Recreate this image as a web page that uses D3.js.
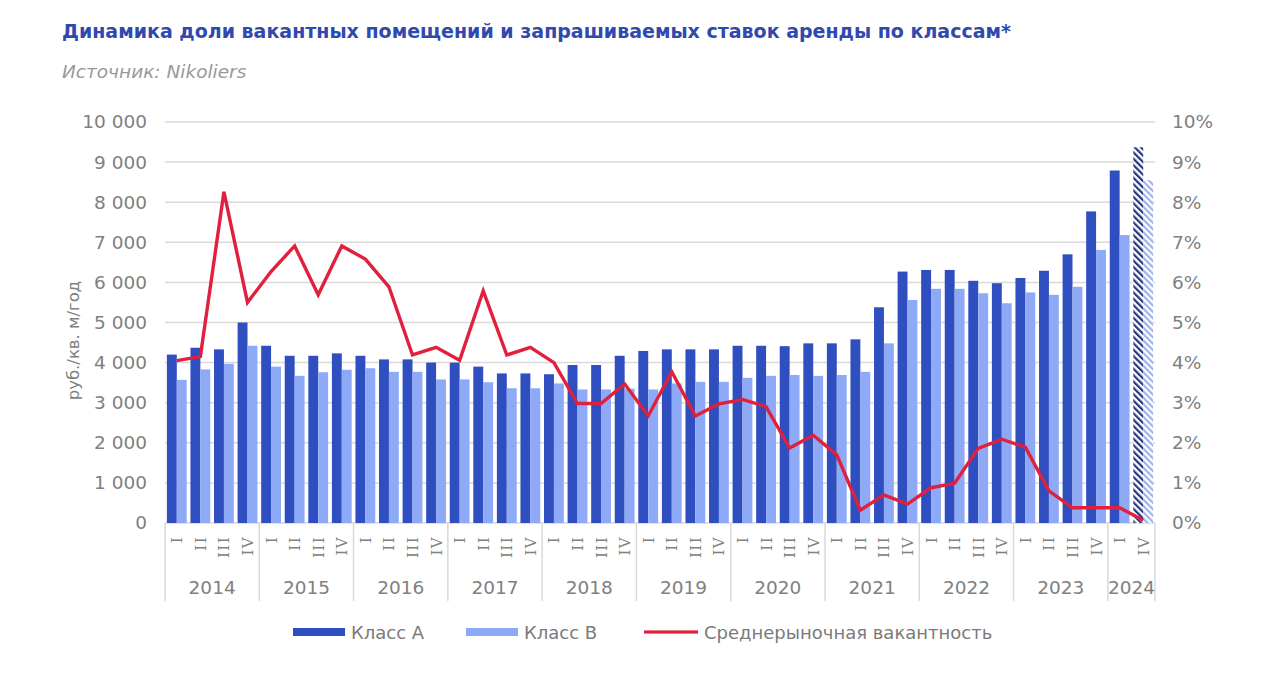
<!DOCTYPE html>
<html>
<head>
<meta charset="utf-8">
<script src="https://cdn.jsdelivr.net/npm/d3@7"></script>
<style>
  body { margin: 0; background: #fff; }
  svg text { font-family: "DejaVu Sans", Verdana, sans-serif; }
</style>
</head>
<body>
<div id="chart"></div>
<script>
// data
var years = ["2014", "2015", "2016", "2017", "2018", "2019", "2020", "2021", "2022", "2023", "2024"];
var yearQuarters = [
  ["I", "II", "III", "IV"], ["I", "II", "III", "IV"], ["I", "II", "III", "IV"],
  ["I", "II", "III", "IV"], ["I", "II", "III", "IV"], ["I", "II", "III", "IV"],
  ["I", "II", "III", "IV"], ["I", "II", "III", "IV"], ["I", "II", "III", "IV"],
  ["I", "II", "III", "IV"], ["I", "IV"]
];
var classA = [4200, 4370, 4330, 5000, 4420, 4170, 4170, 4230, 4170, 4080, 4080, 4000,
  4000, 3900, 3730, 3730, 3710, 3940, 3940, 4170, 4290, 4330, 4330, 4330,
  4420, 4420, 4410, 4480, 4480, 4580, 5380, 6270, 6310, 6310, 6040, 5980,
  6110, 6290, 6700, 7770, 8790, 9370];
var classB = [3570, 3830, 3970, 4420, 3900, 3670, 3760, 3820, 3860, 3770, 3770, 3580,
  3580, 3510, 3360, 3360, 3480, 3330, 3330, 3350, 3330, 3480, 3520, 3520,
  3620, 3670, 3690, 3670, 3690, 3770, 4480, 5560, 5840, 5840, 5730, 5480,
  5750, 5690, 5890, 6810, 7180, 8550];
var vacancy = [4.05, 4.15, 8.26, 5.50, 6.27, 6.91, 5.69, 6.91, 6.58, 5.89, 4.19, 4.38,
  4.06, 5.79, 4.19, 4.38, 4.00, 2.98, 2.98, 3.47, 2.67, 3.77, 2.67, 2.97,
  3.08, 2.90, 1.87, 2.19, 1.70, 0.32, 0.70, 0.47, 0.88, 0.99, 1.86, 2.09,
  1.89, 0.80, 0.38, 0.38, 0.38, 0.07];
var forecastPeriods = ["2024 IV"];
var rentTicks = [0, 1000, 2000, 3000, 4000, 5000, 6000, 7000, 8000, 9000, 10000];
var vacTicks = [0, 1, 2, 3, 4, 5, 6, 7, 8, 9, 10];

var colA = "#2f4ebf", colB = "#8eaaf6", colLine = "#e0203c";
var grey = "#808080", gridCol = "#d9d9d9";

var width = 1280, height = 686;
var margin = {top: 122, right: 125, bottom: 163, left: 165};
var innerW = width - margin.left - margin.right;
var innerH = height - margin.top - margin.bottom;

// flatten periods
var periods = [];
years.forEach(function(y, i) {
  yearQuarters[i].forEach(function(q) {
    periods.push({year: y, q: q, key: y + " " + q});
  });
});
periods.forEach(function(p, i) {
  p.a = classA[i];
  p.b = classB[i];
  p.v = vacancy[i];
  p.forecast = forecastPeriods.indexOf(p.key) >= 0;
});

var svg = d3.select("#chart").append("svg")
  .attr("width", width)
  .attr("height", height);

var defs = svg.append("defs");
function hatch(id, color) {
  var p = defs.append("pattern")
    .attr("id", id)
    .attr("patternUnits", "userSpaceOnUse")
    .attr("width", 4.5)
    .attr("height", 4.5)
    .attr("patternTransform", "rotate(-45)");
  p.append("rect").attr("width", 4.5).attr("height", 4.5).attr("fill", "#fff");
  p.append("rect").attr("width", 2.2).attr("height", 4.5).attr("fill", color);
}
hatch("hatchA", "#24377e");
hatch("hatchB", "#9fb2e6");

svg.append("text")
  .attr("x", 62).attr("y", 38)
  .attr("font-size", 19).attr("font-weight", "bold")
  .attr("fill", "#3049ad")
  .text("Динамика доли вакантных помещений и запрашиваемых ставок аренды по классам*");

svg.append("text")
  .attr("x", 62).attr("y", 78)
  .attr("font-size", 18.5).attr("font-style", "italic")
  .attr("fill", "#999999")
  .text("Источник: Nikoliers");

var g = svg.append("g")
  .attr("transform", "translate(" + margin.left + "," + margin.top + ")");

var x0 = d3.scaleBand()
  .domain(periods.map(function(d) { return d.key; }))
  .range([0, innerW])
  .paddingInner(0.16)
  .paddingOuter(0.08);
var x1 = d3.scaleBand()
  .domain(["a", "b"])
  .range([0, x0.bandwidth()]);
var y = d3.scaleLinear().domain([0, 10000]).range([innerH, 0]);
var yR = d3.scaleLinear().domain([0, 10]).range([innerH, 0]);

// grid
g.selectAll(".grid")
  .data(rentTicks)
  .enter().append("line")
  .attr("x1", 0).attr("x2", innerW)
  .attr("y1", function(d) { return y(d); })
  .attr("y2", function(d) { return y(d); })
  .attr("stroke", gridCol)
  .attr("stroke-width", 1.5);

// axes
var fmt = function(d) { return d3.format(",")(d).replace(/,/g, " "); };
var yAxis = g.append("g")
  .call(d3.axisLeft(y).tickValues(rentTicks).tickFormat(fmt).tickSize(0).tickPadding(18));
var yAxisR = g.append("g")
  .attr("transform", "translate(" + innerW + ",0)")
  .call(d3.axisRight(yR).tickValues(vacTicks).tickFormat(function(d) { return d + "%"; })
    .tickSize(0).tickPadding(17));
[yAxis, yAxisR].forEach(function(ax) {
  ax.select(".domain").remove();
  ax.selectAll("text")
    .attr("font-size", 18.5)
    .attr("fill", grey)
    .style("font-family", "'DejaVu Sans', Verdana, sans-serif");
});

g.append("text")
  .attr("transform", "translate(-86," + (y(4550)) + ") rotate(-90)")
  .attr("text-anchor", "middle")
  .attr("font-size", 16.5)
  .attr("fill", grey)
  .text("руб./кв. м/год");

// bars
var groups = g.selectAll(".period")
  .data(periods)
  .enter().append("g")
  .attr("transform", function(d) { return "translate(" + x0(d.key) + ",0)"; });

groups.append("rect")
  .attr("x", x1("a"))
  .attr("width", x1.bandwidth())
  .attr("y", function(d) { return y(d.a); })
  .attr("height", function(d) { return innerH - y(d.a); })
  .attr("fill", function(d) { return d.forecast ? "url(#hatchA)" : colA; });

groups.append("rect")
  .attr("x", x1("b"))
  .attr("width", x1.bandwidth())
  .attr("y", function(d) { return y(d.b); })
  .attr("height", function(d) { return innerH - y(d.b); })
  .attr("fill", function(d) { return d.forecast ? "url(#hatchB)" : colB; });

// vacancy line
var line = d3.line()
  .x(function(d) { return x0(d.key) + x0.bandwidth() / 2; })
  .y(function(d) { return yR(d.v); });
g.append("path")
  .datum(periods)
  .attr("d", line)
  .attr("fill", "none")
  .attr("stroke", colLine)
  .attr("stroke-width", 3.4)
  .attr("stroke-linejoin", "miter");

// quarter labels
g.selectAll(".qlab")
  .data(periods)
  .enter().append("text")
  .attr("transform", function(d) {
    return "translate(" + (x0(d.key) + x0.bandwidth() / 2 + 5.5) + "," + (innerH + 13) + ") rotate(-90)";
  })
  .attr("text-anchor", "end")
  .attr("font-size", 15)
  .attr("letter-spacing", 1.4)
  .attr("fill", grey)
  .style("font-family", "'DejaVu Serif', serif")
  .text(function(d) { return d.q; });

// year separators and labels
var step = x0.step();
var bounds = [0];
yearQuarters.forEach(function(qs, i) { bounds.push(bounds[i] + qs.length); });
var bx = function(k) { return k === bounds[bounds.length - 1] ? innerW : k * step; };

g.selectAll(".sep")
  .data(bounds)
  .enter().append("line")
  .attr("x1", function(k) { return bx(k); })
  .attr("x2", function(k) { return bx(k); })
  .attr("y1", innerH).attr("y2", innerH + 78)
  .attr("stroke", gridCol)
  .attr("stroke-width", 1.5);

g.selectAll(".ylab")
  .data(years)
  .enter().append("text")
  .attr("x", function(d, i) { return (bx(bounds[i]) + bx(bounds[i + 1])) / 2; })
  .attr("y", innerH + 71)
  .attr("text-anchor", "middle")
  .attr("font-size", 18.5)
  .attr("fill", grey)
  .text(function(d) { return d; });

// legend
var legend = [
  {label: "Класс А", type: "rect", color: colA, x: 293, w: 52},
  {label: "Класс В", type: "rect", color: colB, x: 466, w: 52},
  {label: "Среднерыночная вакантность", type: "line", color: colLine, x: 644, w: 54}
];
var lg = svg.selectAll(".legend")
  .data(legend)
  .enter().append("g")
  .attr("transform", function(d) { return "translate(" + d.x + ",632)"; });
lg.append("rect")
  .attr("y", function(d) { return d.type === "rect" ? -4 : -1.6; })
  .attr("width", function(d) { return d.w; })
  .attr("height", function(d) { return d.type === "rect" ? 8 : 3.2; })
  .attr("fill", function(d) { return d.color; });
lg.append("text")
  .attr("x", function(d) { return d.w + 6; })
  .attr("y", 6.5)
  .attr("font-size", 18)
  .attr("fill", "#7a7a7a")
  .text(function(d) { return d.label; });
</script>
</body>
</html>
